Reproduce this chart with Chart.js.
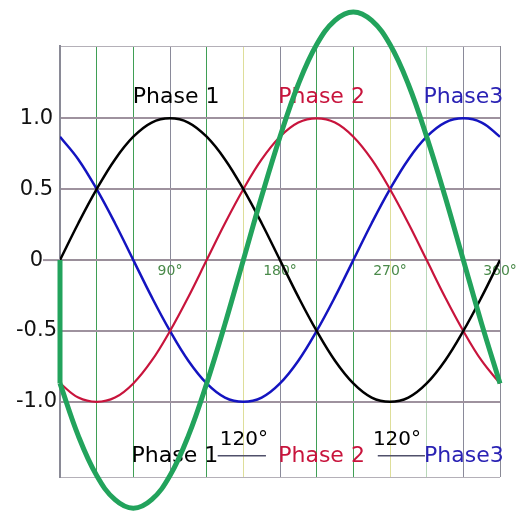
<!DOCTYPE html>
<html>
<head>
<meta charset="utf-8">
<script src="https://cdn.jsdelivr.net/npm/chart.js@4/dist/chart.umd.min.js"></script>
<style>
  html, body { margin: 0; padding: 0; background: #fff; }
  #wrap { width: 522px; height: 522px; }
</style>
</head>
<body>
<div id="wrap"><canvas id="c" width="522" height="522"></canvas></div>
<script>
// ---- data ----
const degrees = [0,15,30,45,60,75,90,105,120,135,150,165,180,195,210,225,240,255,270,285,300,315,330,345,360];
const phase1  = [0,0.26,0.5,0.71,0.87,0.97,1,0.97,0.87,0.71,0.5,0.26,0,-0.26,-0.5,-0.71,-0.87,-0.97,-1,-0.97,-0.87,-0.71,-0.5,-0.26,0];
const phase2  = [-0.87,-0.97,-1,-0.97,-0.87,-0.71,-0.5,-0.26,0,0.26,0.5,0.71,0.87,0.97,1,0.97,0.87,0.71,0.5,0.26,0,-0.26,-0.5,-0.71,-0.87];
const phase3  = [0.87,0.71,0.5,0.26,0,-0.26,-0.5,-0.71,-0.87,-0.97,-1,-0.97,-0.87,-0.71,-0.5,-0.26,0,0.26,0.5,0.71,0.87,0.97,1,0.97,0.87];
const overlay = [-0.87,-1.24,-1.52,-1.69,-1.75,-1.69,-1.52,-1.24,-0.87,-0.45,0,0.45,0.87,1.24,1.52,1.69,1.75,1.69,1.52,1.24,0.87,0.45,0,-0.45,-0.87];
const overlayStartX = [0, 0];
const overlayStartY = [0, -0.87];
const xTickValues = [0,30,60,90,120,150,180,210,240,270,300,330,360];
const xTickLabels = ['','','','90°','','','180°','','','270°','','','360°'];
const yTickValues = [-1,-0.5,0,0.5,1];
const yTickLabels = ['-1.0','-0.5','0','0.5','1.0'];
const seriesNames = ['Phase 1','Phase 2','Phase3'];
const angleText = '120°';

const Y_MIN = -1.53, Y_MAX = 1.51;
const xGridColors = ['#8a8a96','#3f9f55','#3f9f55','#8a8a9a','#3f9f55','#dede9a','#8a8a9a','#3f9f55','#3f9f55','#dede9a','#b8d8b8','#8a8a9a','#8a8a96'];

const pts = (xs, ys) => xs.map((x, i) => ({x, y: ys[i]}));

const labelPlugin = {
  id: 'labels',
  beforeDatasetsDraw(chart) {
    const {ctx, scales: {x, y}} = chart;
    ctx.save();
    ctx.textAlign = 'center';
    ctx.textBaseline = 'middle';
    const colors = ['#000000', '#c8143c', '#2a22b4'];
    const font = '22px "DejaVu Sans", sans-serif';
    // short extension of the zero line to the left of the axis
    ctx.strokeStyle = '#9e929e';
    ctx.lineWidth = 2;
    ctx.beginPath();
    ctx.moveTo(x.left - 17, y.getPixelForValue(0));
    ctx.lineTo(x.left, y.getPixelForValue(0));
    ctx.stroke();
    // top row
    const topX = [95, 214, 330];
    ctx.font = font;
    seriesNames.forEach((n, i) => {
      ctx.fillStyle = colors[i];
      ctx.fillText(n, x.getPixelForValue(topX[i]), y.getPixelForValue(1.15));
    });
    // bottom row
    const botX = [94, 214, 330.5];
    seriesNames.forEach((n, i) => {
      ctx.fillStyle = colors[i];
      ctx.fillText(n, x.getPixelForValue(botX[i]), y.getPixelForValue(-1.385));
    });
    // connector lines and 120° labels
    const segs = [[129, 168.5, 150.5], [260, 298.6, 275.7]];
    ctx.strokeStyle = '#50506a';
    ctx.lineWidth = 1.5;
    ctx.font = '20px "DejaVu Sans", sans-serif';
    ctx.fillStyle = '#000';
    segs.forEach(s => {
      const yy = y.getPixelForValue(-1.38);
      ctx.beginPath();
      ctx.moveTo(x.getPixelForValue(s[0]), yy);
      ctx.lineTo(x.getPixelForValue(s[1]), yy);
      ctx.stroke();
      ctx.fillText(angleText, x.getPixelForValue(s[2]), y.getPixelForValue(-1.265));
    });
    ctx.restore();
  }
};

new Chart(document.getElementById('c'), {
  type: 'line',
  data: {
    datasets: [
      { data: pts(overlayStartX, overlayStartY), borderColor: '#22a35c', borderWidth: 5, pointRadius: 0, tension: 0, clip: false },
      { data: pts(degrees, overlay), borderColor: '#22a35c', borderWidth: 5, pointRadius: 0, tension: 0.4, clip: false },
      { label: seriesNames[0], data: pts(degrees, phase1), borderColor: '#000000', borderWidth: 2.5, pointRadius: 0, tension: 0.4 },
      { label: seriesNames[1], data: pts(degrees, phase2), borderColor: '#c8143c', borderWidth: 2.2, pointRadius: 0, tension: 0.4 },
      { label: seriesNames[2], data: pts(degrees, phase3), borderColor: '#1414c0', borderWidth: 2.5, pointRadius: 0, tension: 0.4 }
    ]
  },
  options: {
    responsive: false,
    animation: false,
    devicePixelRatio: 1,
    layout: { padding: { top: 46, right: 22, bottom: 45, left: 0 } },
    plugins: { legend: { display: false }, tooltip: { enabled: false } },
    scales: {
      x: {
        type: 'linear',
        position: { y: 0 },
        min: 0, max: 360,
        afterBuildTicks: s => { s.ticks = xTickValues.map(v => ({ value: v })); },
        ticks: {
          autoSkip: false, maxRotation: 0, padding: 3,
          color: '#4a8a4a',
          font: { family: 'DejaVu Sans', size: 14 },
          callback: (v) => { const i = xTickValues.indexOf(v); return i >= 0 ? xTickLabels[i] : ''; }
        },
        grid: {
          drawTicks: false,
          lineWidth: 1,
          color: ctx => xGridColors[xTickValues.indexOf(ctx.tick.value)] || '#999'
        },
        border: { display: true, color: '#9a8f9a', width: 2 }
      },
      y: {
        type: 'linear',
        position: 'left',
        min: Y_MIN, max: Y_MAX,
        afterFit: s => { s.width = 60; },
        afterBuildTicks: s => { s.ticks = [Y_MIN, ...yTickValues, Y_MAX].map(v => ({ value: v })); },
        ticks: {
          autoSkip: false, padding: 3, crossAlign: 'center',
          color: '#111',
          font: { family: 'DejaVu Sans', size: 21 },
          callback: (v) => { const i = yTickValues.indexOf(v); return i >= 0 ? yTickLabels[i] : ''; }
        },
        grid: {
          drawTicks: false,
          color: ctx => (ctx.tick.value === Y_MIN || ctx.tick.value === Y_MAX) ? '#b4b0b8' : '#9e929e',
          lineWidth: ctx => (ctx.tick.value === Y_MIN || ctx.tick.value === Y_MAX) ? 1 : 2
        },
        border: { display: true, color: '#8a8a96', width: 2 }
      }
    }
  },
  plugins: [labelPlugin]
});
</script>
</body>
</html>
